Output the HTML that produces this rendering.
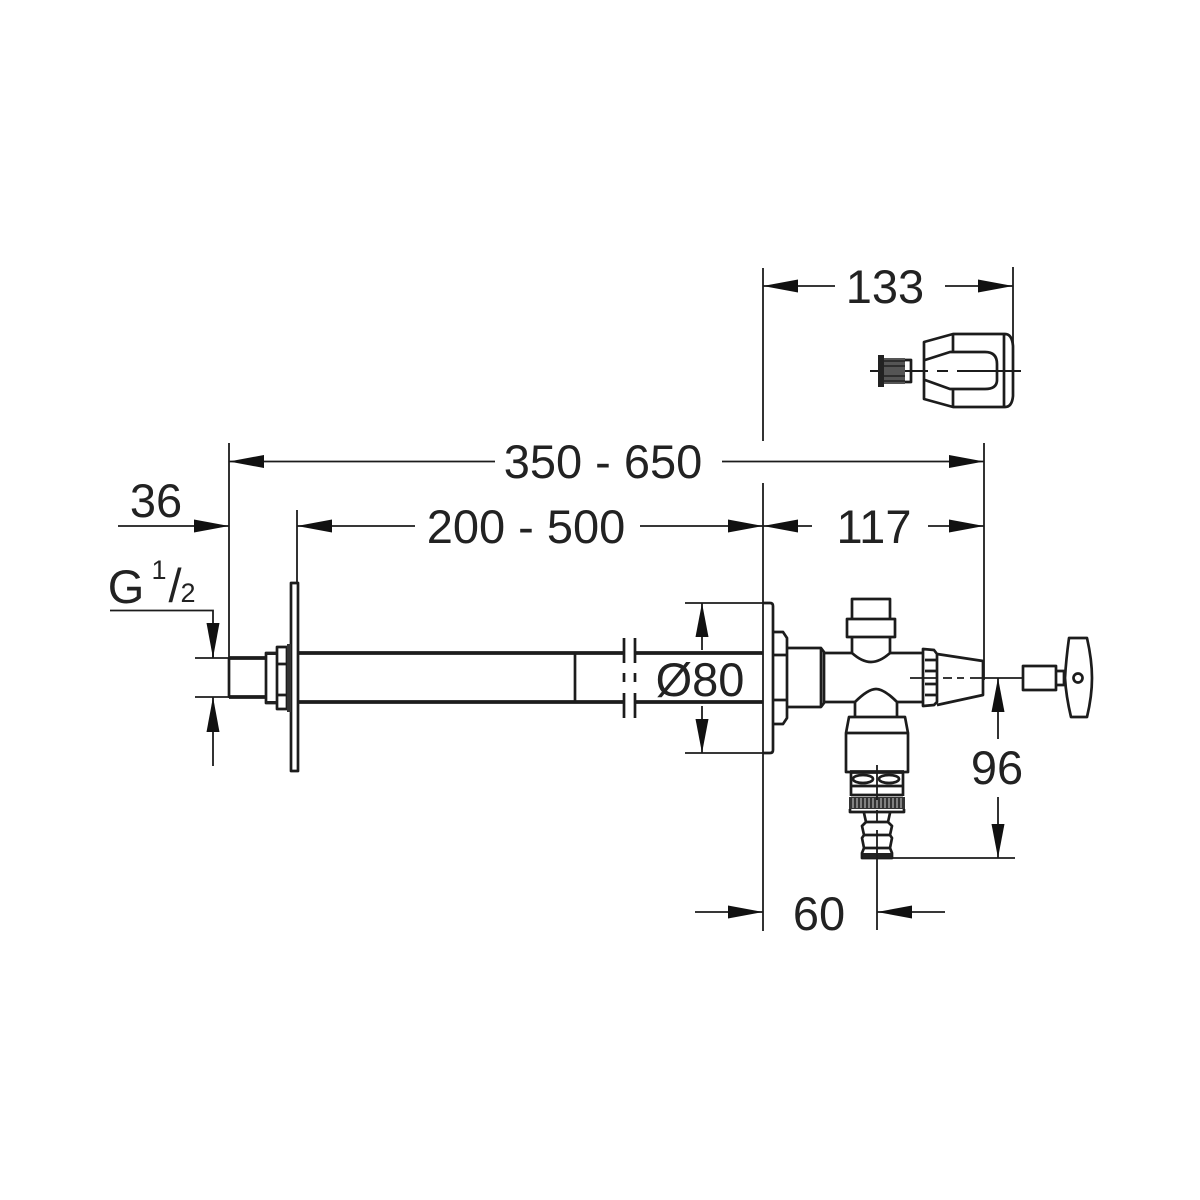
<!DOCTYPE html>
<html><head><meta charset="utf-8"><style>
html,body{margin:0;padding:0;background:#fff}
svg{display:block}
text{font-family:"Liberation Sans",sans-serif;font-size:47px;fill:#222;text-anchor:middle}
.t{stroke:#1c1c1c;stroke-width:1.8;fill:none}
.m{stroke:#1c1c1c;stroke-width:2.7;fill:none;stroke-linejoin:round}
.k{stroke:#1c1c1c;stroke-width:3.8;fill:none}
.a{fill:#111;stroke:none}
</style></head><body>
<svg width="1200" height="1200" viewBox="0 0 1200 1200" xmlns="http://www.w3.org/2000/svg">
<rect width="1200" height="1200" fill="#fff"/>
<!-- extension lines -->
<path class="t" d="M763 268V441M763 483V931M1013 267V345M984 443V680M229 443V698M297 510V583M195 658H229M195 697H229M685 603H768M685 753H768M893 858H1015M110 610.500H213V658M213 697V766"/>
<!-- dim rows -->
<path class="t" d="M763 286H835M945 286H1013M229 461.500H495M722 461.500H984M118 526H229M297 526H415M640 526H763M763 526H812M928 526H984M702 603V650M702 706V753M998 678V739M998 797V858M695 912H763M877 912H945M213 623V658M984 678H1023"/>
<!-- arrowheads -->
<g class="a">
<polygon points="763,286 798,279.500 798,292.500"/><polygon points="1013,286 978,279.500 978,292.500"/>
<polygon points="229,461.500 264,455 264,468"/><polygon points="984,461.500 949,455 949,468"/>
<polygon points="229,526 194,519.500 194,532.500"/><polygon points="297,526 332,519.500 332,532.500"/>
<polygon points="763,526 728,519.500 728,532.500"/><polygon points="763,526 798,519.500 798,532.500"/>
<polygon points="984,526 949,519.500 949,532.500"/>
<polygon points="702,603 695.500,637 708.500,637"/><polygon points="702,753 695.500,719 708.500,719"/>
<polygon points="998,678 991.500,712 1004.500,712"/><polygon points="998,858 991.500,824 1004.500,824"/>
<polygon points="763,912 728,905.500 728,918.500"/><polygon points="877,912 912,905.500 912,918.500"/>
<polygon points="213,658 206.500,623 219.500,623"/><polygon points="213,697 206.500,732 219.500,732"/>
</g>
<!-- text -->
<text x="885" y="303">133</text>
<text x="603" y="478">350 - 650</text>
<text x="156" y="517">36</text>
<text x="526" y="543">200 - 500</text>
<text x="874" y="543">117</text>
<text x="700" y="696">Ø80</text>
<text x="997" y="784">96</text>
<text x="819" y="930">60</text>
<text x="126" y="603">G</text>
<text x="159" y="579" style="font-size:27px">1</text>
<text x="175" y="602">/</text>
<text x="188" y="602" style="font-size:27px">2</text>
<!-- left pipe -->
<path class="m" d="M229 658V697"/>
<path class="k" d="M229 658H266M229 697H266"/>
<rect class="m" x="291" y="583" width="7" height="188" />
<path class="m" d="M266 653H277V703H266ZM277 647H287V709H277ZM277 664H287M277 695H287"/>
<rect x="287" y="644" width="4" height="68" fill="#333"/>
<rect x="266" y="652" width="10" height="3" fill="#222"/><rect x="266" y="701" width="10" height="3" fill="#222"/>
<path class="k" d="M298 653H624M635 653H763M298 702H624M635 702H763"/>
<path class="m" d="M575 653V702"/>
<path class="m" d="M624 638V663M635 638V663M624 673V682M635 673V682M624 693V718M635 693V718"/>
<!-- wall plate -->
<path class="m" d="M763 603H770Q773 603 773 606V750Q773 753 770 753H763"/>
<path class="m" d="M773 632H783L787 638V718L783 724H773M773 655H786M773 700H786"/>
<!-- valve body -->
<path class="m" d="M787 648H821L824 652V703L821 707H787"/>
<path class="m" d="M824 653H852M890 653H923M824 702H855M897 702H923M821 648V707"/>
<!-- top cap -->
<path class="m" d="M852 619V599H890V619M847 619H895V637H847ZM852 637V653Q862 662 871 662Q880 662 890 653V637"/>
<!-- bottom branch -->
<path class="m" d="M855 717V702Q868 689 876 689Q884 689 897 702V717"/>
<path class="m" d="M849 717H905L908 733V772H846V733ZM846 733H908"/>
<path class="k" d="M850 772H904"/>
<path class="m" d="M851 772V796M903 772V796"/>
<ellipse class="m" cx="863" cy="779" rx="10" ry="4"/><ellipse class="m" cx="889" cy="779" rx="10" ry="4"/>
<path class="m" d="M851 786H903M851 795H903"/>
<rect x="849" y="797" width="56" height="12" fill="#333"/>
<path stroke="#ccc" stroke-width="1" d="M853 798V808M857 798V808M861 798V808M865 798V808M869 798V808M873 798V808M877 798V808M881 798V808M885 798V808M889 798V808M893 798V808M897 798V808M901 798V808"/>
<path class="m" d="M850 809V812H904V809M864 813L866 822L862 826L864 835L862 838L864 848L862 853V858H892V853L890 848L892 838L890 835L892 826L888 822L890 813"/>
<path class="m" d="M866 822H888M864 835H890M864 848H890"/>
<rect x="863" y="853" width="29" height="5" fill="#222"/>
<path class="t" d="M877 765V800M877 810V822M877 830V930"/>
<!-- cone -->
<path class="m" d="M923 649L934 650L937 654V702L934 705L923 706ZM937 654L983 661V695L937 705M925 660H936M925 671H936M925 684H936M925 695H936"/>
<path class="t" d="M910 678H937M943 678H952M957 678H964M970 678H984"/>
<!-- key -->
<path class="m" d="M1023 666H1056V690H1023ZM1056 671H1064V685H1056Z"/>
<path class="m" d="M1069 638H1087Q1092 660 1092 678Q1092 696 1087 717H1071Q1066 696 1065 678Q1066 660 1069 638Z"/>
<circle class="m" cx="1078" cy="678" r="4.500"/>
<!-- top knob -->
<path class="m" d="M924 342L953 334H1005Q1012 334 1013 346V396Q1012 407 1005 407H953L924 399ZM925 360L950 352H985Q997 352 997 364V380Q997 389 985 389H950L925 380M953 334V352M953 389V407M1004 334V407"/>
<path class="m" d="M870 371H928M937 371H948M957 371H1021" style="stroke-width:2"/>
<rect x="878" y="355" width="6" height="32" fill="#222"/>
<rect x="884" y="358" width="21" height="26" fill="#555"/>
<path stroke="#222" stroke-width="1.5" d="M884 361H905M884 366H905M884 376H905M884 381H905"/>
<path class="m" d="M905 360H911V382H905"/>
</svg>
</body></html>
